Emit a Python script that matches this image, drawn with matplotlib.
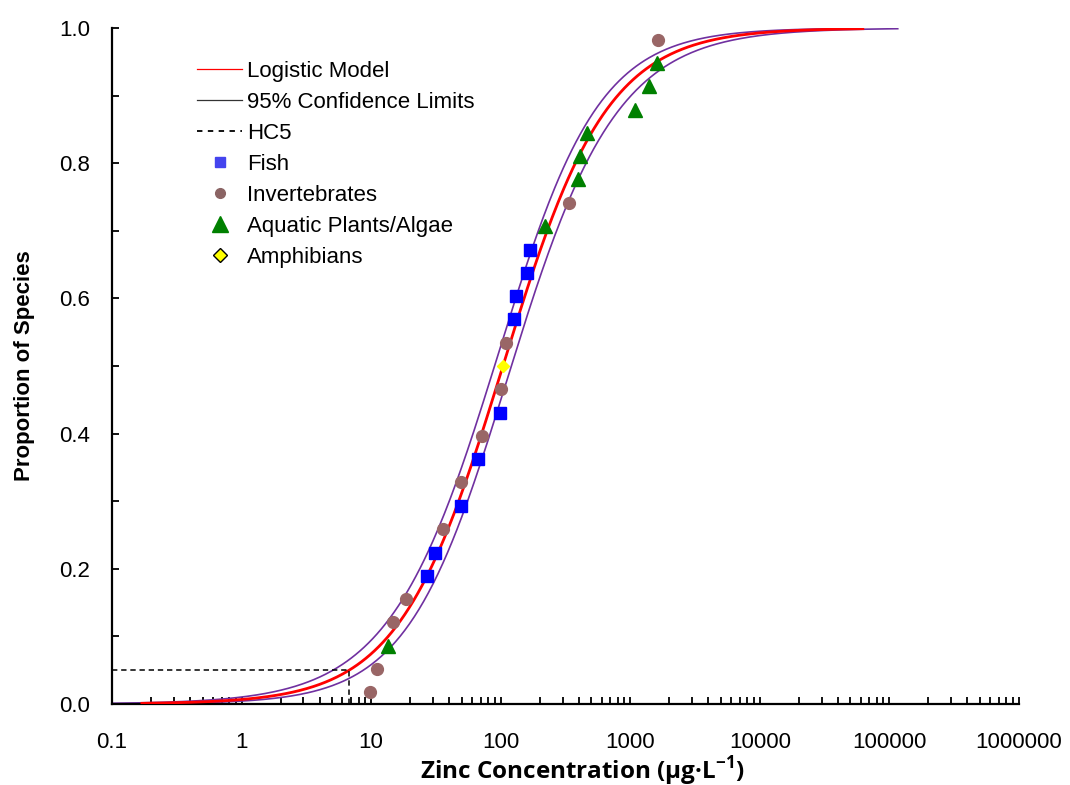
import numpy as np
import matplotlib
matplotlib.use("Agg")
import matplotlib.pyplot as plt
from matplotlib.lines import Line2D
from matplotlib.ticker import LogLocator, FixedLocator, NullFormatter, FuncFormatter

plt.rcParams['font.family'] = ['Liberation Sans', 'DejaVu Sans']
plt.rcParams['mathtext.fontset'] = 'custom'
plt.rcParams['mathtext.rm'] = 'Open Sans'
plt.rcParams['mathtext.bf'] = 'Open Sans:bold'

# ---- data ----
fish_x = [27, 31, 49, 67, 99, 126, 131, 159, 168]
fish_p = [0.190, 0.224, 0.293, 0.362, 0.431, 0.569, 0.603, 0.638, 0.672]

invert_x = [9.8, 11.1, 14.7, 18.6, 35.8, 49, 71.6, 100, 110, 336, 1650]
invert_p = [0.017, 0.052, 0.121, 0.155, 0.259, 0.328, 0.397, 0.466, 0.534, 0.741, 0.983]

plants_x = [13.5, 220, 392, 406, 464, 1085, 1393, 1596]
plants_p = [0.086, 0.707, 0.776, 0.810, 0.845, 0.879, 0.914, 0.948]

amphib_x = [104]
amphib_p = [0.500]

# logistic model (in log10 concentration): centre and scale, plotted range
model_mu, model_s, model_range = 2.017, 0.403, (0.17, 62400)
# confidence band half-width in logit units: ci_a * sqrt(1 + ((log10 x - mu)/ci_b)^2)
ci_a, ci_b = 0.16, 0.79
upper_range = (0.1, 32900)
lower_range = (0.1, 116000)

hc5_x = 6.75
hc5_p = 0.05


def curve(rng, sign):
    xs = np.logspace(np.log10(rng[0]), np.log10(rng[1]), 500)
    lx = np.log10(xs)
    logit = (lx - model_mu) / model_s
    half = ci_a * np.sqrt(1 + ((lx - model_mu) / ci_b) ** 2)
    return xs, 1.0 / (1.0 + np.exp(-(logit + sign * half)))


fig = plt.figure(figsize=(10.7, 7.85), dpi=100)
ax = fig.add_axes([0.1047, 0.1032, 0.8476, 0.8611])

purple = '#7030A0'
xs, ys = curve(upper_range, 1)
ax.plot(xs, ys, color=purple, lw=1.2, zorder=2)
xs, ys = curve(lower_range, -1)
ax.plot(xs, ys, color=purple, lw=1.2, zorder=2)
xs, ys = curve(model_range, 0)
ax.plot(xs, ys, color='#FF0000', lw=2.0, zorder=3)

ax.plot([0.1, hc5_x], [hc5_p, hc5_p], color='black', ls=(0, (3.5, 2.5)), lw=1.1, zorder=4)
ax.plot([hc5_x, hc5_x], [0, hc5_p], color='black', ls=(0, (3.5, 2.5)), lw=1.1, zorder=4)

ax.plot(fish_x, fish_p, ls='none', marker='s', ms=8.5, color='#0000FF', mec='#0000FF', zorder=5)
ax.plot(invert_x, invert_p, ls='none', marker='o', ms=8.5, color='#996666', mec='#996666', zorder=5)
ax.plot(plants_x, plants_p, ls='none', marker='^', ms=9.5, color='#008000', mec='#008000', zorder=5)
ax.plot(amphib_x, amphib_p, ls='none', marker='D', ms=6, color='#FFFF00', mec='#FFFF00', zorder=5)

ax.set_xscale('log')
ax.set_xlim(0.1, 1000000)
ax.set_ylim(0, 1.0)

for side in ['top', 'right']:
    ax.spines[side].set_visible(False)
for side in ['left', 'bottom']:
    ax.spines[side].set_linewidth(1.6)
    ax.spines[side].set_color('black')

ax.xaxis.set_major_locator(LogLocator(base=10, numticks=20))
ax.xaxis.set_minor_locator(LogLocator(base=10, subs=np.arange(2, 10), numticks=20))
ax.xaxis.set_minor_formatter(NullFormatter())
ax.xaxis.set_major_formatter(FuncFormatter(lambda v, p: ('%g' % v) if v < 1 else '%d' % round(v)))
ax.yaxis.set_major_locator(FixedLocator([0, 0.2, 0.4, 0.6, 0.8, 1.0]))
ax.yaxis.set_minor_locator(FixedLocator([0.1, 0.3, 0.5, 0.7, 0.9]))
ax.yaxis.set_major_formatter(FuncFormatter(lambda v, p: '%.1f' % v))

ax.tick_params(axis='x', which='both', direction='in', length=5, width=1.3, labelsize=16, pad=20)
ax.tick_params(axis='y', which='both', direction='in', length=5, width=1.3, labelsize=16, pad=16)

ax.set_xlabel(r'Zinc Concentration (µg·L$^{\mathbf{-1}}$)', fontfamily='Open Sans', fontweight='bold',
              fontsize=17.5)
ax.xaxis.set_label_coords(0.519, -0.099, transform=ax.transAxes)
ax.xaxis.label.set_va('center')
ax.set_ylabel('Proportion of Species', fontweight='bold', fontsize=16, labelpad=17)

handles = [
    Line2D([], [], color='#FF0000', lw=0.9),
    Line2D([], [], color='#333333', lw=0.9),
    Line2D([], [], color='black', lw=1.3, ls=(0, (3, 3))),
    Line2D([], [], ls='none', marker='s', ms=7, color='#4444EE'),
    Line2D([], [], ls='none', marker='o', ms=7, color='#8B6464'),
    Line2D([], [], ls='none', marker='^', ms=11, color='#008000'),
    Line2D([], [], ls='none', marker='D', ms=7, color='#FFFF00', mec='black', mew=1),
]
labels = ['Logistic Model', '95% Confidence Limits', 'HC5', 'Fish', 'Invertebrates',
          'Aquatic Plants/Algae', 'Amphibians']
fig.legend(handles, labels, loc='upper left', bbox_to_anchor=(0.174, 0.937), frameon=False,
           fontsize=16, handlelength=2.0, handletextpad=0.25, labelspacing=0.45, borderpad=0)

fig.savefig('out.png', dpi=100)
